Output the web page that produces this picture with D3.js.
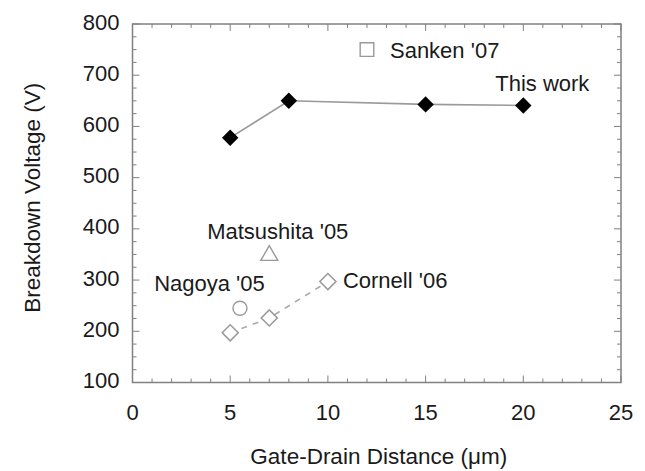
<!DOCTYPE html>
<html>
<head>
<meta charset="utf-8">
<script src="https://cdn.jsdelivr.net/npm/d3@7"></script>
<style>
  body { margin: 0; background: #fff; }
  text { font-family: "Liberation Sans", Arial, sans-serif; fill: #1a1a1a; }
</style>
</head>
<body>
<script>
// Data
var thisWorkX = [5, 8, 15, 20];
var thisWorkY = [578, 650, 643, 641];
var cornellX = [5, 7, 10];
var cornellY = [197, 226, 297];
var sankenX = [12];
var sankenY = [750];
var matsushitaX = [7];
var matsushitaY = [350];
var nagoyaX = [5.5];
var nagoyaY = [245];
var xTicks = [0, 5, 10, 15, 20, 25];
var yTicks = [100, 200, 300, 400, 500, 600, 700, 800];

var margin = {top: 24, right: 24, bottom: 88.5, left: 132.5},
    width = 645 - margin.left - margin.right,
    height = 471 - margin.top - margin.bottom;

var svg = d3.select("body").append("svg")
    .attr("width", 645)
    .attr("height", 471)
  .append("g")
    .attr("transform", "translate(" + margin.left + "," + margin.top + ")");

var x = d3.scaleLinear().domain([0, 25]).range([0, width]);
var y = d3.scaleLinear().domain([100, 800]).range([height, 0]);

function pts(xs, ys) {
  return xs.map(function(d, i) { return {x: d, y: ys[i]}; });
}

var frameColor = "#808080";

// Minor and major ticks, drawn inward on all four sides
var minorX = d3.range(0, 26, 1), minorY = d3.range(100, 801, 25);
var ticks = svg.append("g").attr("stroke", frameColor).attr("stroke-width", 1);
minorX.forEach(function(v) {
  var len = (v % 5 === 0) ? 7 : 4;
  ticks.append("line").attr("x1", x(v)).attr("x2", x(v)).attr("y1", height).attr("y2", height - len);
  ticks.append("line").attr("x1", x(v)).attr("x2", x(v)).attr("y1", 0).attr("y2", len);
});
minorY.forEach(function(v) {
  var len = (v % 100 === 0) ? 7 : 4;
  ticks.append("line").attr("y1", y(v)).attr("y2", y(v)).attr("x1", 0).attr("x2", len);
  ticks.append("line").attr("y1", y(v)).attr("y2", y(v)).attr("x1", width).attr("x2", width - len);
});

svg.append("rect")
    .attr("width", width).attr("height", height)
    .attr("fill", "none").attr("stroke", frameColor).attr("stroke-width", 1.5);

// Tick labels
svg.append("g").selectAll("text").data(xTicks).enter().append("text")
    .attr("x", function(d) { return x(d); })
    .attr("y", height + 37.5)
    .attr("text-anchor", "middle")
    .style("font-size", "22px")
    .text(function(d) { return d; });

svg.append("g").selectAll("text").data(yTicks).enter().append("text")
    .attr("x", -13)
    .attr("y", function(d) { return y(d) + 5.5; })
    .attr("text-anchor", "end")
    .style("font-size", "22px")
    .text(function(d) { return d; });

// Axis titles
svg.append("text")
    .attr("x", width / 2 + 2)
    .attr("y", height + 81.5)
    .attr("text-anchor", "middle")
    .style("font-size", "22.5px")
    .text("Gate-Drain Distance (\u03bcm)");

svg.append("text")
    .attr("transform", "translate(" + (-92.5) + "," + (height / 2 - 5.5) + ") rotate(-90)")
    .attr("text-anchor", "middle")
    .style("font-size", "22.5px")
    .text("Breakdown Voltage (V)");

var line = d3.line()
    .x(function(d) { return x(d.x); })
    .y(function(d) { return y(d.y); });

// This work
var tw = pts(thisWorkX, thisWorkY);
svg.append("path").datum(tw)
    .attr("d", line).attr("fill", "none")
    .attr("stroke", "#9a9a9a").attr("stroke-width", 1.6);
svg.selectAll(".tw").data(tw).enter().append("path")
    .attr("transform", function(d) { return "translate(" + x(d.x) + "," + y(d.y) + ") rotate(45)"; })
    .attr("d", d3.symbol().type(d3.symbolSquare).size(135))
    .attr("fill", "#000");

// Cornell '06
var co = pts(cornellX, cornellY);
svg.append("path").datum(co)
    .attr("d", line).attr("fill", "none")
    .attr("stroke", "#aaa").attr("stroke-width", 1.6)
    .attr("stroke-dasharray", "6,6");
svg.selectAll(".co").data(co).enter().append("path")
    .attr("transform", function(d) { return "translate(" + x(d.x) + "," + y(d.y) + ") rotate(45)"; })
    .attr("d", d3.symbol().type(d3.symbolSquare).size(130))
    .attr("fill", "#fff").attr("stroke", "#999").attr("stroke-width", 1.5);

// Sanken '07
svg.selectAll(".sa").data(pts(sankenX, sankenY)).enter().append("path")
    .attr("transform", function(d) { return "translate(" + x(d.x) + "," + y(d.y) + ")"; })
    .attr("d", d3.symbol().type(d3.symbolSquare).size(185))
    .attr("fill", "#fff").attr("stroke", "#999").attr("stroke-width", 1.4);

// Matsushita '05
svg.selectAll(".ma").data(pts(matsushitaX, matsushitaY)).enter().append("path")
    .attr("transform", function(d) { return "translate(" + x(d.x) + "," + (y(d.y) + 1) + ")"; })
    .attr("d", d3.symbol().type(d3.symbolTriangle).size(125))
    .attr("fill", "#fff").attr("stroke", "#999").attr("stroke-width", 1.4);

// Nagoya '05
svg.selectAll(".na").data(pts(nagoyaX, nagoyaY)).enter().append("circle")
    .attr("cx", function(d) { return x(d.x); })
    .attr("cy", function(d) { return y(d.y); })
    .attr("r", 7)
    .attr("fill", "#fff").attr("stroke", "#999").attr("stroke-width", 1.4);

// Labels next to the markers
function label(txt, px, py, dx, dy, anchor) {
  svg.append("text")
      .attr("x", x(px) + dx)
      .attr("y", y(py) + dy)
      .attr("text-anchor", anchor)
      .style("font-size", "22px")
      .text(txt);
}
label("Sanken '07", sankenX[0], sankenY[0], 23, 8, "start");
label("This work", thisWorkX[3], thisWorkY[3], 19, -14.5, "middle");
label("Matsushita '05", matsushitaX[0], matsushitaY[0], 8.5, -15, "middle");
label("Nagoya '05", nagoyaX[0], nagoyaY[0], -30.5, -17.5, "middle");
label("Cornell '06", cornellX[2], cornellY[2], 15, 6, "start");
</script>
</body>
</html>
